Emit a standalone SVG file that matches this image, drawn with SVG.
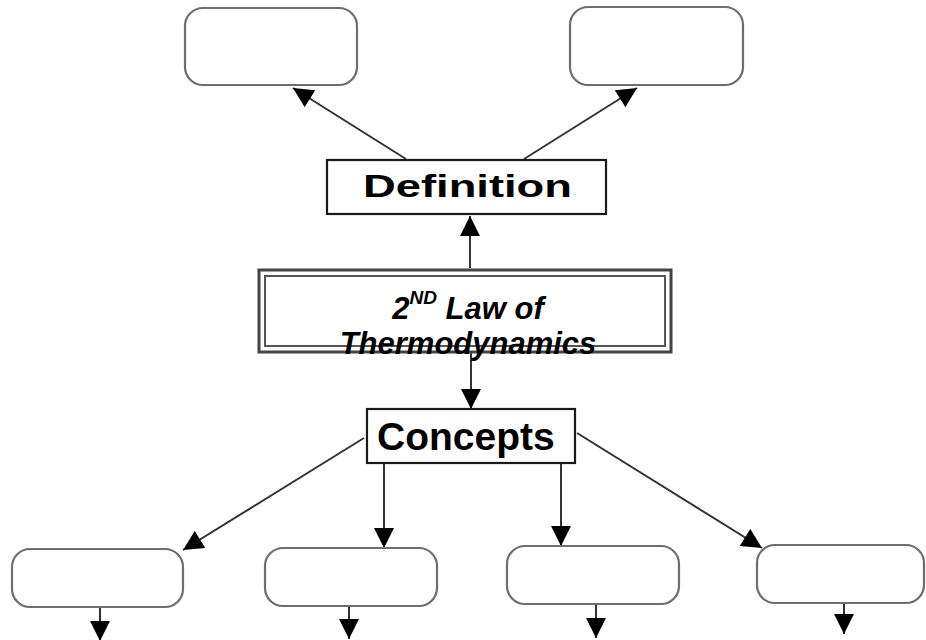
<svg xmlns="http://www.w3.org/2000/svg" width="926" height="640" viewBox="0 0 926 640">
<style>
.rbox{fill:#fff;stroke:#6e6e6e;stroke-width:2.2}
.sbox{fill:#fff;stroke:#1a1a1a;stroke-width:2.2}
.conn{stroke:#333;stroke-width:2;fill:none;marker-end:url(#ah)}
.t{font-family:"Liberation Sans",Arial,sans-serif;font-weight:bold;fill:#000}
.it{font-style:italic}
</style>
<defs>
<marker id="ah" viewBox="0 0 20 20" refX="20" refY="10" markerWidth="21" markerHeight="20" markerUnits="userSpaceOnUse" orient="auto">
<path d="M0,0 L20,10 L0,20 z" fill="#000"/>
</marker>
</defs>
<rect width="926" height="640" fill="#fff"/>
<g id="connectors">
<line class="conn" x1="406" y1="159" x2="293" y2="88"/>
<line class="conn" x1="524" y1="159" x2="637" y2="88"/>
<line class="conn" x1="470" y1="268" x2="470" y2="216"/>
<line class="conn" x1="471" y1="353" x2="471" y2="409"/>
<line class="conn" x1="364" y1="438" x2="183" y2="550"/>
<line class="conn" x1="384" y1="463" x2="384" y2="548"/>
<line class="conn" x1="561" y1="463" x2="561" y2="546"/>
<line class="conn" x1="577" y1="433" x2="762" y2="548"/>
<line class="conn" x1="100" y1="607" x2="100" y2="641"/>
<line class="conn" x1="349" y1="606" x2="349" y2="639"/>
<line class="conn" x1="596" y1="604" x2="596" y2="638"/>
<line class="conn" x1="844" y1="603" x2="844" y2="634"/>
</g>
<g id="top-left"><rect class="rbox" x="185" y="8" width="172" height="77" rx="18"/></g>
<g id="top-right"><rect class="rbox" x="570" y="7" width="173" height="78" rx="18"/></g>
<g id="definition">
<rect class="sbox" x="327" y="160" width="279" height="54"/>
<text class="t" x="363" y="197" font-size="32" fill="#222" textLength="209" lengthAdjust="spacingAndGlyphs">Definition</text>
</g>
<g id="law">
<rect x="259" y="270" width="412" height="82" fill="#fff" stroke="#444" stroke-width="3"/>
<rect x="265" y="276" width="400" height="70" fill="none" stroke="#555" stroke-width="2"/>
<text class="t it" x="468" y="319" font-size="31" text-anchor="middle">2<tspan font-size="19" dy="-15">ND</tspan><tspan dy="15"> Law of</tspan></text>
<text class="t it" x="468" y="354" font-size="31" text-anchor="middle">Thermodynamics</text>
</g>
<g id="concepts">
<rect class="sbox" x="367" y="409" width="208" height="54"/>
<text class="t" x="377" y="450" font-size="39">Concepts</text>
</g>
<g id="c1"><rect class="rbox" x="12" y="549" width="171" height="58" rx="18"/></g>
<g id="c2"><rect class="rbox" x="265" y="548" width="172" height="58" rx="18"/></g>
<g id="c3"><rect class="rbox" x="507" y="546" width="172" height="58" rx="18"/></g>
<g id="c4"><rect class="rbox" x="757" y="545" width="167" height="58" rx="18"/></g>
</svg>
